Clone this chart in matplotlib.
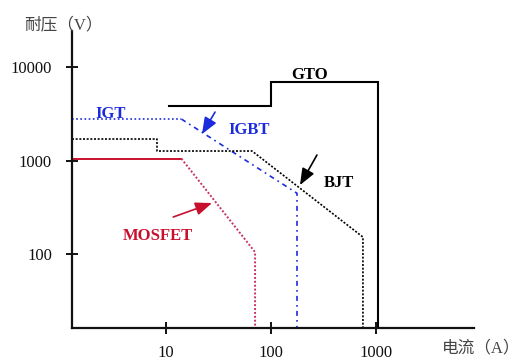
import matplotlib
matplotlib.use("Agg")
import matplotlib.pyplot as plt
from matplotlib.ticker import NullLocator, FixedLocator, FixedFormatter

# ---- data ----
x_min, x_max = 1.27, 8600
y_min, y_max = 16.2, 24300

gto_x = [10.7, 100, 100, 1045, 1045]
gto_y = [3830, 3830, 6900, 6900, y_min]

igt_x = [x_min, 14]
igt_y = [2780, 2780]

igbt_x = [14, 177, 177]
igbt_y = [2780, 447, y_min]

bjt_x = [x_min, 8.2, 8.2, 66, 752, 752]
bjt_y = [1700, 1700, 1265, 1265, 152, y_min]

mos_flat_x = [x_min, 14]
mos_flat_y = [1050, 1050]
mos_drop_x = [14, 70.5, 70.5]
mos_drop_y = [1050, 105, y_min]

x_ticks = [10, 100, 1000]
x_tick_labels = ["10", "100", "1000"]
y_ticks = [100, 1000, 10000]
y_tick_labels = ["100", "1000", "10000"]

# arrows: (tail, head)
igbt_arrow = ((29.3, 3300), (22.0, 1920))
bjt_arrow = ((274, 1146), (189, 547))
mos_arrow = ((11.7, 249), (27.4, 351))

BLUE = "#1c2bdc"
RED = "#c8102e"
PINK = "#c83264"

W, H = 530, 363
fig = plt.figure(figsize=(W / 100, H / 100), dpi=100)
ax = fig.add_axes([72 / W, 35 / H, (474 - 72) / W, (328 - 31) / H])
ax.set_xscale("log")
ax.set_yscale("log")
ax.set_xlim(x_min, x_max)
ax.set_ylim(y_min, y_max)

for s in ["top", "right"]:
    ax.spines[s].set_visible(False)
for s in ["left", "bottom"]:
    ax.spines[s].set_linewidth(1.6)
    ax.spines[s].set_color("#111111")

ax.xaxis.set_major_locator(FixedLocator(x_ticks))
ax.xaxis.set_major_formatter(FixedFormatter(x_tick_labels))
ax.yaxis.set_major_locator(FixedLocator(y_ticks))
ax.yaxis.set_major_formatter(FixedFormatter(y_tick_labels))
ax.xaxis.set_minor_locator(NullLocator())
ax.yaxis.set_minor_locator(NullLocator())
ax.tick_params(direction="inout", length=9, width=1.4, color="#111111",
               labelsize=12, labelcolor="#111111")
ax.tick_params(axis="y", pad=10)
ax.tick_params(axis="x", pad=8)
for lab in ax.get_xticklabels() + ax.get_yticklabels():
    lab.set_fontfamily("Liberation Serif")

# lines
ax.plot(gto_x, gto_y, color="#000000", lw=1.5, solid_joinstyle="miter")
ax.plot(igt_x, igt_y, color=BLUE, lw=1.2, linestyle=(0, (1, 1.5)))
ax.plot(igbt_x, igbt_y, color=BLUE, lw=1.2, linestyle=(0, (3, 2.5, 1, 2.5)))
ax.plot(bjt_x, bjt_y, color="#000000", lw=1.2, linestyle=(0, (1.2, 1)))
ax.plot(mos_flat_x, mos_flat_y, color=RED, lw=1.4)
ax.plot(mos_drop_x, mos_drop_y, color=PINK, lw=1.4, linestyle=(0, (1, 1)))

# arrows
def arrow(tail_head, color):
    tail, head = tail_head
    ax.annotate("", xy=head, xytext=tail,
                arrowprops=dict(arrowstyle="-|>,head_length=1.0,head_width=0.4",
                                color=color, lw=1.2, shrinkA=0, shrinkB=0))

arrow(igbt_arrow, BLUE)
arrow(bjt_arrow, "#000000")
arrow(mos_arrow, RED)

# labels (pixel positions)
def ptext(px, py, s, color, **kw):
    fig.text(px / W, 1 - py / H, s, color=color, ha="center", va="center", **kw)

serif_bold = dict(family="Liberation Serif", fontweight="bold", fontsize=12)
ptext(310, 75, "GTO", "#000000", **serif_bold)
ptext(111, 114, "IGT", BLUE, **serif_bold)
ptext(249, 130, "IGBT", BLUE, **serif_bold)
ptext(339, 183, "BJT", "#000000", **serif_bold)
ptext(158, 236, "MOSFET", RED, **serif_bold)

cjk = ["Liberation Serif", "Noto Sans CJK SC"]
ptext(63, 25, "耐压（V）", "#444444", family=cjk, fontsize=12)
ptext(481, 348, "电流（A）", "#444444", family=cjk, fontsize=12)

fig.savefig("out.png", dpi=100)
